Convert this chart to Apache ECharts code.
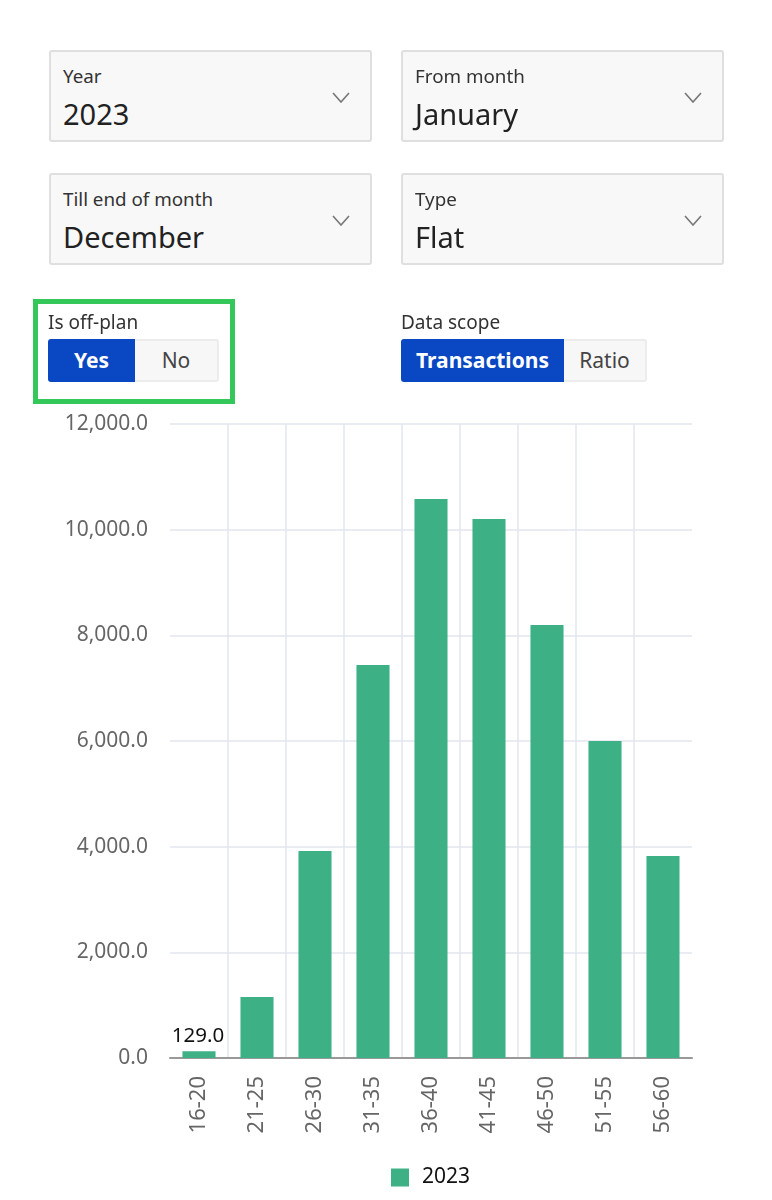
<!DOCTYPE html>
<html>
<head>
<meta charset="utf-8">
<title>Transactions by size</title>
<script src="https://cdn.jsdelivr.net/npm/echarts@6/dist/echarts.min.js"></script>
<style>
  html, body { margin: 0; padding: 0; background: #fff; }
  body { position: relative; width: 772px; height: 1200px; overflow: hidden; font-family: "Noto Sans", sans-serif; color: #222; }
  #mainChart { position: absolute; left: 0; top: 0; width: 772px; height: 1200px; }
  .select { position: absolute; width: 323px; height: 92px; box-sizing: border-box; background: #f8f8f8; border: 2px solid #dfdfdf; border-radius: 3px; }
  .select .lbl { position: absolute; left: 12px; top: 11px; font-size: 18.8px; line-height: 26px; color: #333; }
  .select .val { position: absolute; left: 12px; top: 43px; font-size: 29px; line-height: 38px; color: #222; }
  .select svg { position: absolute; right: 20px; top: 40px; }
  .cap { position: absolute; font-size: 19px; line-height: 26px; color: #333; }
  .toggle { position: absolute; top: 339px; height: 43px; box-sizing: border-box; font-size: 21px; line-height: 43px; text-align: center; }
  .toggle.on { background: #0a47c2; color: #fff; font-weight: 700; border-radius: 3px 0 0 3px; }
  .toggle.off { background: #f7f7f7; color: #444; border: 2px solid #ececec; border-left: 0; line-height: 39px; border-radius: 0 3px 3px 0; }
  #frame { position: absolute; left: 33px; top: 299px; width: 202px; height: 105px; box-sizing: border-box; border: 5px solid #34c759; }
</style>
</head>
<body>
<div id="mainChart"></div>
<div id="controls"></div>
<div id="frame"></div>
<script>
// 图表数据
var categories = ['16-20', '21-25', '26-30', '31-35', '36-40', '41-45', '46-50', '51-55', '56-60'];
var values2023 = [129, 1155, 3918, 7439, 10581, 10202, 8196, 6000, 3823];
var seriesName = '2023';

// 筛选项
var selects = [
    { label: 'Year', value: '2023', left: 49, top: 50 },
    { label: 'From month', value: 'January', left: 401, top: 50 },
    { label: 'Till end of month', value: 'December', left: 49, top: 173 },
    { label: 'Type', value: 'Flat', left: 401, top: 173 }
];
var toggles = [
    { text: 'Yes', cls: 'on', left: 48, width: 87 },
    { text: 'No', cls: 'off', left: 135, width: 84 },
    { text: 'Transactions', cls: 'on', left: 401, width: 163 },
    { text: 'Ratio', cls: 'off', left: 564, width: 83 }
];
var captions = [
    { text: 'Is off-plan', left: 48, top: 309 },
    { text: 'Data scope', left: 401, top: 309 }
];

var arrow = '<svg width="18" height="11" viewBox="0 0 18 11"><path d="M1 1 L9 10 L17 1" fill="none" stroke="#777" stroke-width="1.6"/></svg>';
var html = '';
for (var i = 0; i < selects.length; i++) {
    var s = selects[i];
    html += '<div class="select" style="left:' + s.left + 'px;top:' + s.top + 'px">' +
        '<div class="lbl">' + s.label + '</div><div class="val">' + s.value + '</div>' + arrow + '</div>';
}
for (var j = 0; j < captions.length; j++) {
    var c = captions[j];
    html += '<div class="cap" style="left:' + c.left + 'px;top:' + c.top + 'px">' + c.text + '</div>';
}
for (var k = 0; k < toggles.length; k++) {
    var t = toggles[k];
    html += '<div class="toggle ' + t.cls + '" style="left:' + t.left + 'px;width:' + t.width + 'px">' + t.text + '</div>';
}
document.getElementById('controls').innerHTML = html;

var myChart = echarts.init(document.getElementById('mainChart'), null, { renderer: 'canvas' });
myChart.setOption({
    animation: false,
    backgroundColor: 'transparent',
    textStyle: { fontFamily: '"Noto Sans", sans-serif' },
    grid: { left: 170, right: 80, top: 424, bottom: 142, containLabel: false },
    legend: {
        data: [seriesName],
        top: 1162,
        left: 386,
        icon: 'rect',
        itemWidth: 18,
        itemHeight: 18,
        textStyle: { fontSize: 21, color: '#111', padding: [0, 0, 0, 8] }
    },
    xAxis: {
        type: 'category',
        data: categories,
        axisTick: { show: false },
        axisLine: { lineStyle: { color: '#999', width: 2 } },
        axisLabel: { rotate: 90, interval: 0, margin: 18, fontSize: 22, color: '#666' },
        splitLine: { show: true, interval: 0, showMinLine: false, showMaxLine: false, lineStyle: { color: '#e3e6ef', width: 1.5 } }
    },
    yAxis: {
        type: 'value',
        min: 0,
        max: 12000,
        interval: 2000,
        axisLine: { show: false },
        axisTick: { show: false },
        axisLabel: {
            margin: 22,
            fontSize: 21,
            color: '#666',
            formatter: function (v) {
                return v.toLocaleString('en-US', { minimumFractionDigits: 1, maximumFractionDigits: 1 });
            }
        },
        splitLine: { lineStyle: { color: '#e3e6ef', width: 1.5 } }
    },
    series: [{
        name: seriesName,
        type: 'bar',
        data: values2023,
        barWidth: '57%',
        itemStyle: { color: '#3eb086' },
        label: {
            show: true,
            position: 'top',
            distance: 5,
            fontSize: 20.5,
            offset: [-1, 0],
            color: '#111',
            formatter: function (p) {
                // 只有第一根柱子显示数值
                return p.dataIndex === 0 ? p.value.toFixed(1) : '';
            }
        }
    }]
});
</script>
</body>
</html>
